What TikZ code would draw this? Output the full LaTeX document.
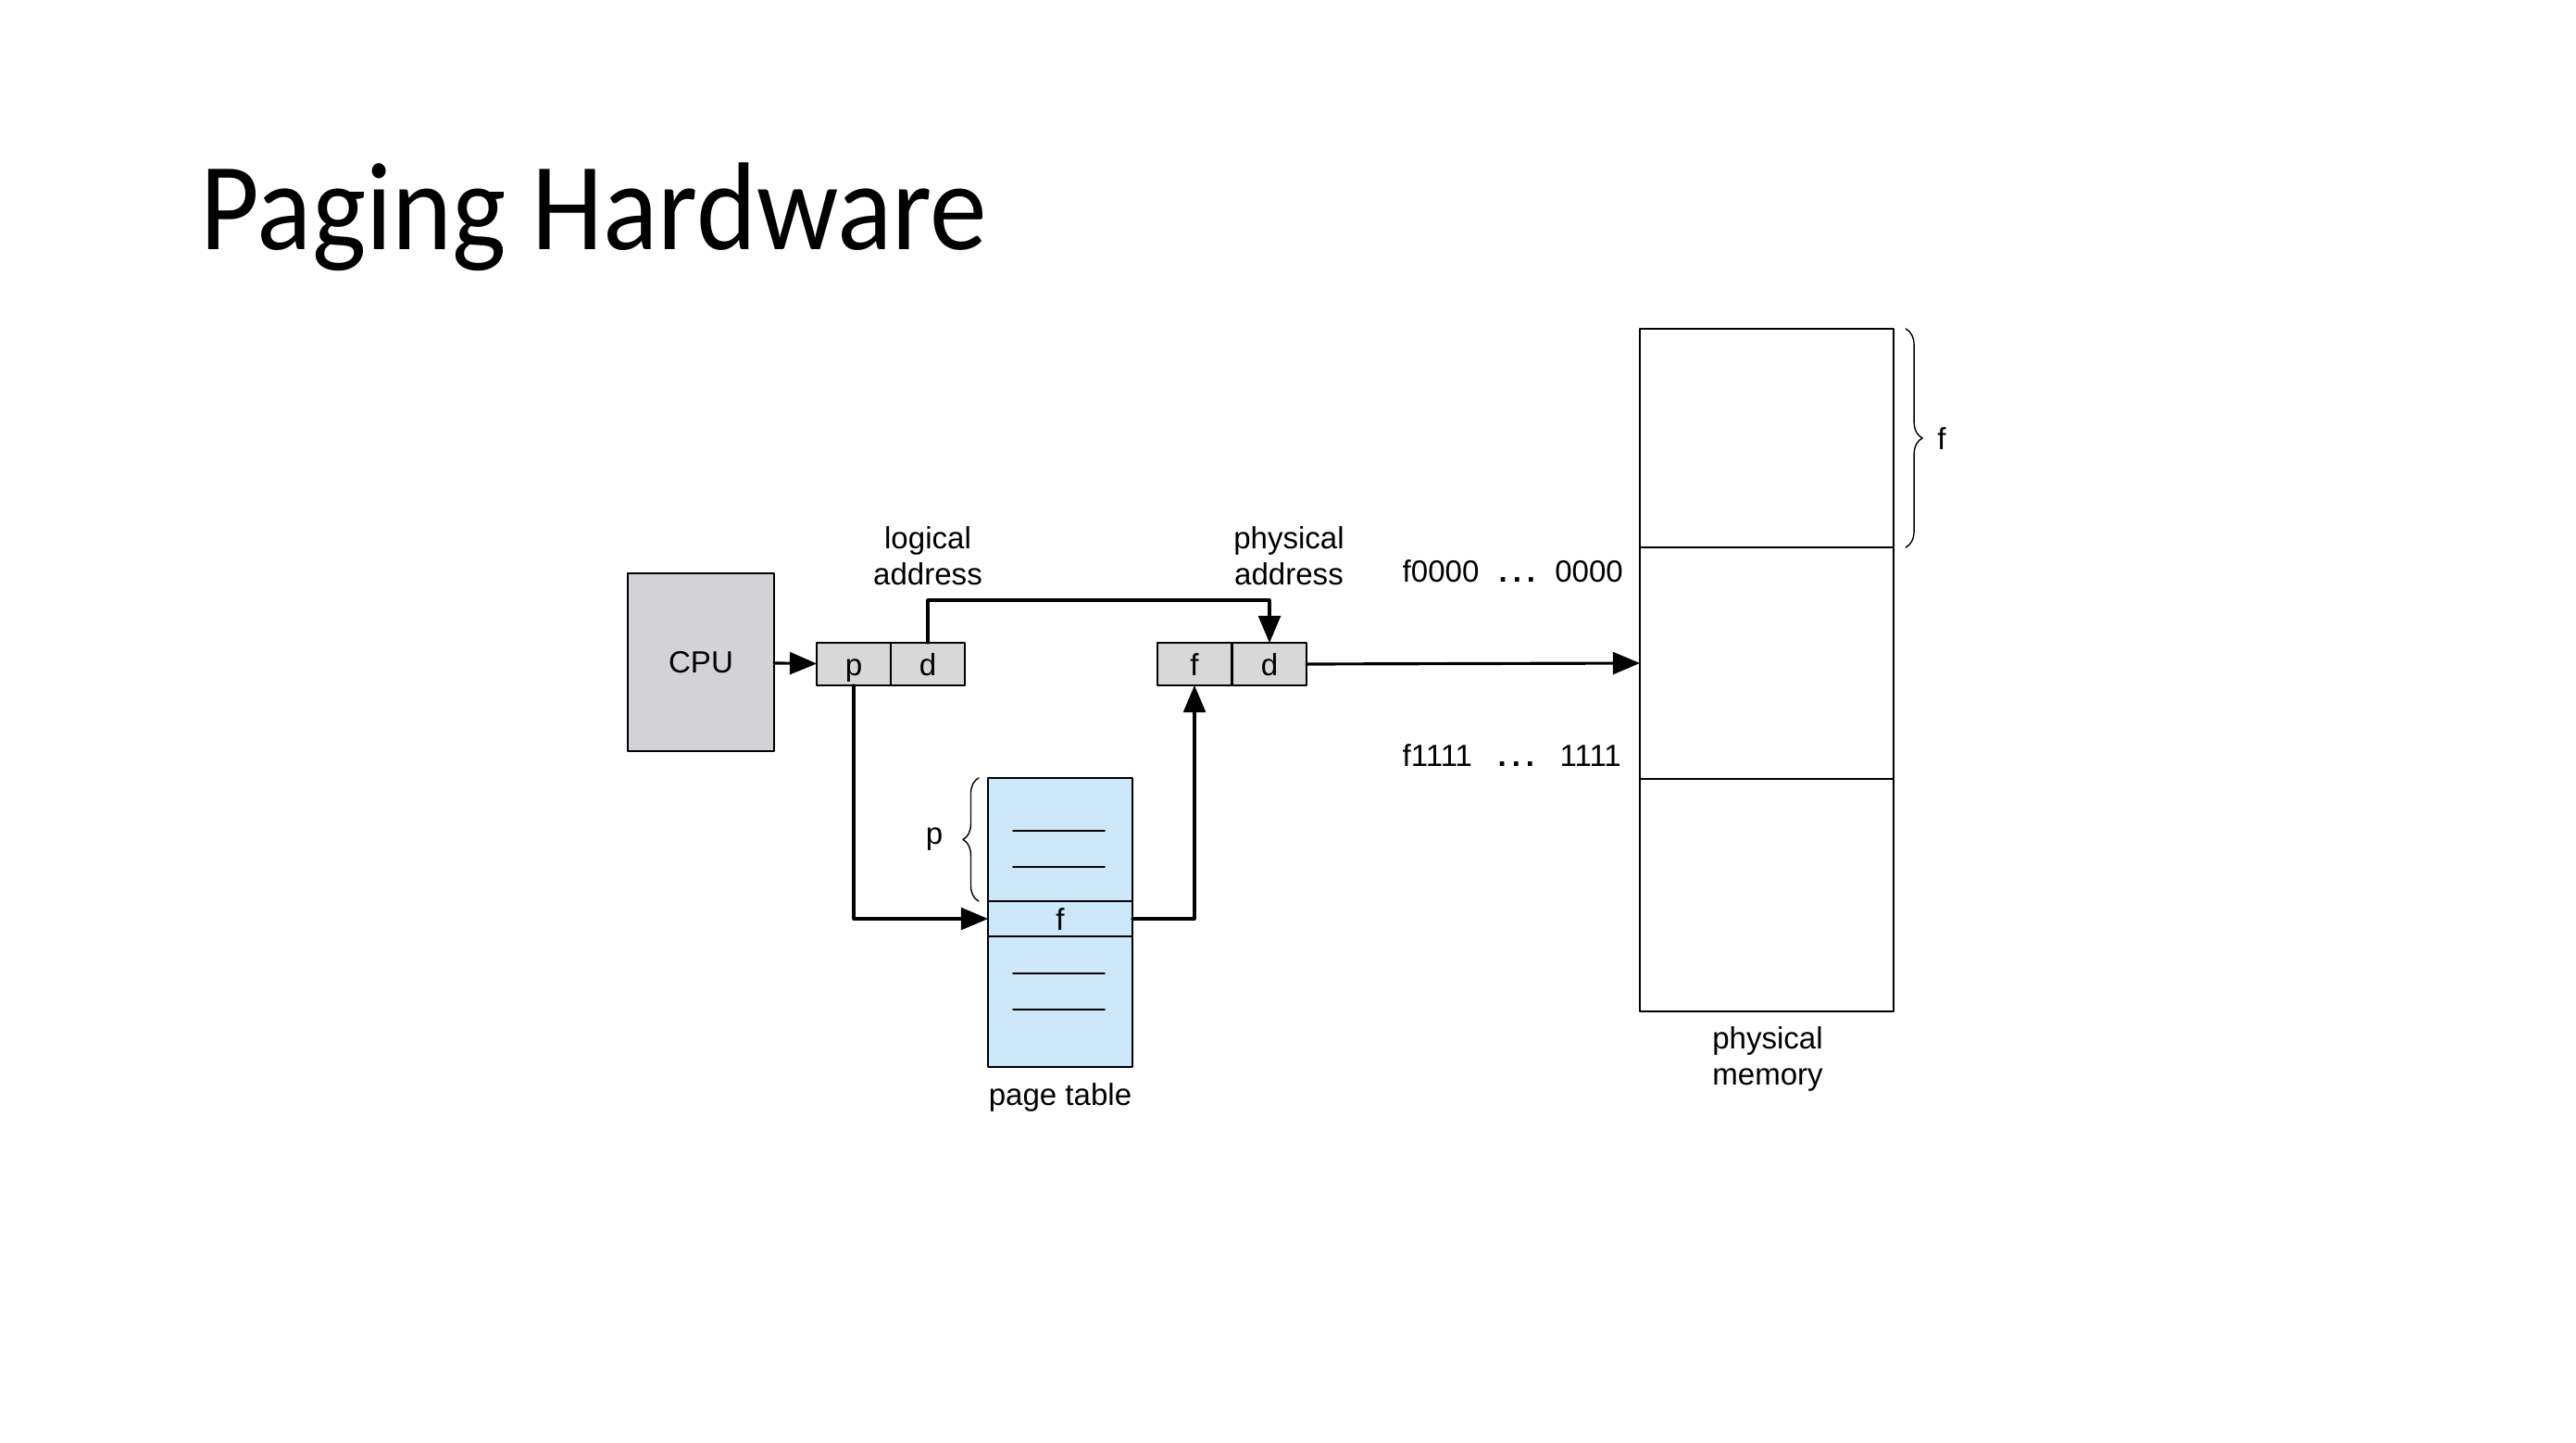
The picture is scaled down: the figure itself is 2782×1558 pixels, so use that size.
\documentclass[tikz,border=0pt]{standalone}
\usepackage{fontspec}
\usepackage{graphicx}
\setmainfont{Liberation Sans}
\newfontfamily\titlefont{Carlito}
\usetikzlibrary{arrows}
\usetikzlibrary{decorations.pathreplacing}
\definecolor{regfill}{RGB}{216,216,216}
\definecolor{cpufill}{RGB}{211,211,215}
\definecolor{tabfill}{RGB}{205,232,249}

\begin{document}
\begin{tikzpicture}[line cap=round,line join=round,>=triangle 45,x=0.01cm,
y=-0.01cm,
cell/.style={draw,fill=regfill,line width=0.5pt,minimum width=0.8cm,
minimum height=0.46cm,inner sep=0pt,outer sep=0pt,text height=0.74em,
text depth=0.02em,font=\fontsize{9.4}{11}\selectfont},
frame/.style={draw,line width=0.6pt,minimum width=2.74cm,inner sep=0pt,outer sep=0pt},
lab/.style={font=\fontsize{9.4}{11.1}\selectfont,align=center,inner sep=0pt},
link/.style={->,line width=0.9pt}]
\useasboundingbox (0,0) rectangle (2782,1558);
% Tiêu đề
\node[anchor=base west,inner sep=0pt,font=\titlefont\fontsize{38.4}{46}\selectfont]
(title) at (216,270) {\scalebox{0.915}[1]{Paging Hardware}};
% CPU và hai thanh ghi địa chỉ
\node[draw,fill=cpufill,line width=0.5pt,minimum width=1.58cm,minimum height=1.92cm,
inner sep=0pt,outer sep=0pt,font=\fontsize{9.4}{11}\selectfont] (cpu) at (757,715) {CPU};
\node[cell] (lp) at (922,717) {p};
\node[cell] (ld) at (1002,717) {d};
\node[cell] (pf) at (1290,717) {f};
\node[cell] (pd) at (1371,717) {d};
\node[lab] (ltext) at (1002,600) {logical\\address};
\node[lab] (ptext) at (1392,600) {physical\\address};
% Bảng trang
\node[draw,fill=tabfill,line width=0.5pt,minimum width=1.56cm,minimum height=3.12cm,
inner sep=0pt,outer sep=0pt] (ptab) at (1145,996) {};
\node[draw,line width=0.5pt,minimum width=1.56cm,minimum height=0.38cm,inner sep=0pt,
outer sep=0pt,text height=0.74em,text depth=0.02em,
font=\fontsize{9.4}{11}\selectfont] (frow) at (1145,992) {f};
\foreach \y in {897,936,1051,1090}
\draw[line width=0.5pt] (1094,\y) -- (1193,\y);
\node[lab] (ptlabel) at (1145,1185) {page table};
\draw[decorate,decoration={brace,amplitude=0.17cm},line width=0.4pt]
([xshift=-0.1cm]frow.north west) -- ([xshift=-0.1cm]ptab.north west);
\node[lab] (plab) at (1009,906) {p};
% Bộ nhớ vật lý
\node[frame,minimum height=2.36cm] (mtop) at (1908,473) {};
\node[frame,minimum height=2.5cm] (mmid) at (1908,716) {};
\node[frame,minimum height=2.51cm] (mbot) at (1908,966.5) {};
\node[lab] (mlabel) at (1909,1143) {physical\\memory};
\draw[decorate,decoration={brace,amplitude=0.18cm},line width=0.4pt]
([xshift=0.13cm]mtop.north east) -- ([xshift=0.13cm]mtop.south east);
\node[lab] (flab) at (2097,474) {f};
\node[lab,anchor=west] (lo) at (1514,617)
{\makebox[2.38cm]{f0000\hfill\textbf{.\hspace{0.18em}.\hspace{0.18em}.}\hfill0000}};
\node[lab,anchor=west] (hi) at (1514,816)
{\makebox[2.36cm]{f1111\hfill\textbf{.\hspace{0.18em}.\hspace{0.18em}.}\hfill1111}};
% Các mũi tên
\draw[link] (cpu) -- (lp);
\draw[link] (ld.north) -- ++(0,-46) -| (pd.north);
\draw[link] (lp.south) |- (frow.west);
\draw[link] (frow.east) -| (pf.south);
\draw[link] (pd.east) -- (mmid.west);
\end{tikzpicture}
\end{document}
